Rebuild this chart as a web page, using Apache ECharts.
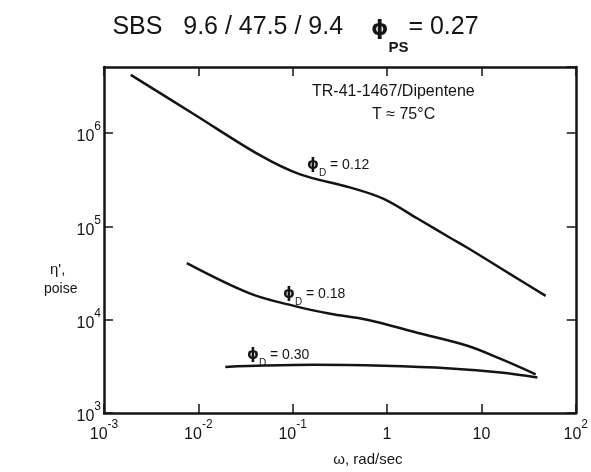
<!DOCTYPE html>
<html>
<head>
<meta charset="utf-8">
<script src="https://cdn.jsdelivr.net/npm/echarts@6/dist/echarts.min.js"></script>
<style>html,body{margin:0;padding:0;background:#fff}#c{width:591px;height:472px}</style>
</head>
<body>
<div id="c"></div>
<script>
// ---- data ----
const omega12 = [0.00192, 0.0089, 0.0453, 0.12, 0.41, 0.92, 2.08, 4.7, 7.1, 20, 48];
const eta12   = [4.2e6, 1.6e6, 5.75e5, 3.6e5, 2.6e5, 1.97e5, 1.22e5, 7.5e4, 5.9e4, 3.1e4, 1.8e4];
const omega18 = [0.00755, 0.0355, 0.111, 0.25, 0.615, 2.08, 7.1, 16, 37.6];
const eta18   = [4.03e4, 1.9e4, 1.38e4, 1.16e4, 1.0e4, 7.25e3, 5.25e3, 3.8e3, 2.6e3];
const omega30 = [0.0193, 0.05, 0.167, 0.92, 4.7, 16, 39.2];
const eta30   = [3.12e3, 3.22e3, 3.28e3, 3.2e3, 3.0e3, 2.72e3, 2.4e3];
const xTickLabels = {'0.001':['10','-3'],'0.01':['10','-2'],'0.1':['10','-1'],'1':['1',''],'10':['10',''],'100':['10','2']};
const yTickLabels = {'1000':['10','3'],'10000':['10','4'],'100000':['10','5'],'1000000':['10','6']};
const curveLabels = ['0.12','0.18','0.30'];

const FONT = 'Liberation Sans';
const INK = '#141414';
function pairs(xs, ys){ return xs.map((x,i)=>[x, ys[i]]); }
function fmt(table){
  return function(v){
    const k = String(+v.toPrecision(6));
    const t = table[k];
    if(!t) return '';
    return t[1] ? '{b|' + t[0] + '}{s|' + t[1] + '}' : '{b|' + t[0] + '}';
  };
}
const rich = {
  b:{fontFamily:FONT,fontSize:16,color:INK,lineHeight:24,verticalAlign:'bottom'},
  s:{fontFamily:FONT,fontSize:12,color:INK,lineHeight:24,verticalAlign:'top',padding:[0,0,6,0]}
};
const axisLine = {show:true,lineStyle:{color:INK,width:2.5}};
const tick = {show:true,inside:true,length:9,lineStyle:{color:INK,width:1.5}};

const chart = echarts.init(document.getElementById('c'), null, {renderer:'canvas'});
const lineSeries = (data) => ({type:'line',data:data,xAxisIndex:0,yAxisIndex:0,smooth:0.35,showSymbol:false,
  lineStyle:{color:INK,width:2.5},silent:true});
const phiRich = {p:{fontFamily:'DejaVu Sans',fontSize:15,fontWeight:'bold',fill:INK,lineHeight:20,verticalAlign:'top'},
  d:{fontFamily:FONT,fontSize:10,fill:INK,lineHeight:20,verticalAlign:'bottom'},
  v:{fontFamily:FONT,fontSize:14,fill:INK,lineHeight:20,verticalAlign:'top'}};

chart.setOption({
  animation:false,
  backgroundColor:'#fff',
  grid:{left:104,right:15,top:67,bottom:50,containLabel:false},
  title:{
    text:'{t|SBS   9.6 / 47.5 / 9.4    }{p|ϕ}{sub|PS}{t|= 0.27}',
    left:'center',top:10,
    textStyle:{fontWeight:'normal',rich:{
      t:{fontFamily:FONT,fontSize:25,fontWeight:'normal',color:INK,lineHeight:40,verticalAlign:'top'},
      p:{fontFamily:'DejaVu Sans',fontSize:22,fontWeight:'bold',color:INK,lineHeight:40,verticalAlign:'top',padding:[3,0,0,0]},
      sub:{fontFamily:FONT,fontSize:15,fontWeight:'bold',color:INK,lineHeight:40,verticalAlign:'bottom'}
    }}
  },
  xAxis:[
    {type:'log',logBase:10,min:0.001,max:100,position:'bottom',
     axisLine:axisLine,axisTick:tick,splitLine:{show:false},minorTick:{show:false},
     axisLabel:{formatter:fmt(xTickLabels),rich:rich,margin:6,showMinLabel:true,showMaxLabel:true},
     name:'ω, rad/sec',nameLocation:'middle',nameGap:39,
     nameTextStyle:{fontFamily:FONT,fontSize:15,color:INK,padding:[0,0,0,56]}},
    {type:'log',logBase:10,min:0.001,max:100,position:'top',
     axisLine:axisLine,axisTick:tick,splitLine:{show:false},axisLabel:{show:false}}
  ],
  yAxis:[
    {type:'log',logBase:10,min:1000,max:5.1e6,position:'left',
     axisLine:axisLine,axisTick:tick,splitLine:{show:false},minorTick:{show:false},
     axisLabel:{formatter:fmt(yTickLabels),rich:rich,margin:3,showMinLabel:true,showMaxLabel:false}},
    {type:'log',logBase:10,min:1000,max:5.1e6,position:'right',
     axisLine:axisLine,axisTick:tick,splitLine:{show:false},axisLabel:{show:false}}
  ],
  graphic:[
    {type:'text',left:50,top:262,style:{text:"η',",font:'15px "Liberation Sans"',fill:INK}},
    {type:'text',left:44,top:282,style:{text:'poise',font:'14px "Liberation Sans"',fill:INK}},
    {type:'text',left:312,top:84,style:{text:'TR-41-1467/Dipentene',font:'16px "Liberation Sans"',fill:INK}},
    {type:'text',left:372,top:107,style:{text:'T ≈ 75°C',font:'16px "Liberation Sans"',fill:INK}},
    {type:'text',left:307,top:158,style:{rich:phiRich,text:'{p|ϕ}{d|D}{v| = ' + curveLabels[0] + '}'}},
    {type:'text',left:283,top:287,style:{rich:phiRich,text:'{p|ϕ}{d|D}{v| = ' + curveLabels[1] + '}'}},
    {type:'text',left:247,top:348,style:{rich:phiRich,text:'{p|ϕ}{d|D}{v| = ' + curveLabels[2] + '}'}}
  ],
  series:[
    lineSeries(pairs(omega12, eta12)),
    lineSeries(pairs(omega18, eta18)),
    lineSeries(pairs(omega30, eta30))
  ]
});
</script>
</body>
</html>
